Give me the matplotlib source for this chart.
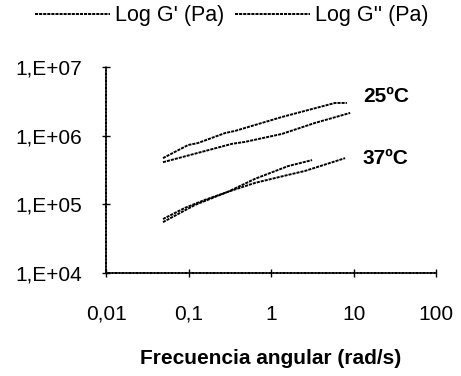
import matplotlib
matplotlib.use("Agg")
import matplotlib.pyplot as plt
from matplotlib.ticker import FixedLocator, NullLocator

plt.rcParams['font.family'] = ['Liberation Sans', 'DejaVu Sans']

# 25 ºC
freq_g1_25 = [0.049, 0.099, 0.13, 0.277, 0.366, 1.36, 5.97, 8.3]
g1_25 = [4.7e5, 7.3e5, 7.8e5, 1.09e6, 1.17e6, 1.87e6, 2.99e6, 2.99e6]
freq_g2_25 = [0.049, 0.337, 0.484, 1.36, 3.41, 9.1]
g2_25 = [4.1e5, 7.6e5, 8.1e5, 1.06e6, 1.53e6, 2.14e6]
# 37 ºC
freq_g1_37 = [0.049, 0.091, 0.158, 0.30, 0.64, 1.61, 3.14]
g1_37 = [6.1e4, 8.9e4, 1.16e5, 1.52e5, 2.35e5, 3.6e5, 4.4e5]
freq_g2_37 = [0.049, 0.12, 0.30, 0.64, 1.61, 2.58, 7.9]
g2_37 = [5.5e4, 9.8e4, 1.52e5, 2.05e5, 2.68e5, 3.06e5, 4.7e5]

xticks = [0.01, 0.1, 1, 10, 100]
xticklabels = ['0,01', '0,1', '1', '10', '100']
yticks = [1e4, 1e5, 1e6, 1e7]
yticklabels = ['1,E+04', '1,E+05', '1,E+06', '1,E+07']

fig = plt.figure(figsize=(4.61, 3.76), dpi=100)
ax = fig.add_axes([0.23, 0.274, 0.716, 0.548])
ls = (0, (1.6, 0.5))
l1, = ax.plot(freq_g1_25, g1_25, color='black', lw=1.4, ls=ls, label="Log G' (Pa)")
l2, = ax.plot(freq_g2_25, g2_25, color='black', lw=1.4, ls=ls, label="Log G'' (Pa)")
ax.plot(freq_g1_37, g1_37, color='black', lw=1.4, ls=ls)
ax.plot(freq_g2_37, g2_37, color='black', lw=1.4, ls=ls)

ax.set_xscale('log')
ax.set_yscale('log')
ax.set_xlim(0.01, 100)
ax.set_ylim(1e4, 1e7)
ax.xaxis.set_major_locator(FixedLocator(xticks))
ax.yaxis.set_major_locator(FixedLocator(yticks))
ax.xaxis.set_minor_locator(NullLocator())
ax.yaxis.set_minor_locator(NullLocator())
ax.set_xticklabels(xticklabels)
ax.set_yticklabels(yticklabels)
ax.tick_params(direction='inout', length=6, width=1, labelsize=15)
ax.tick_params(axis='x', pad=20)
ax.tick_params(axis='y', pad=14)
for s in ['top', 'right']:
    ax.spines[s].set_visible(False)
for s in ['left', 'bottom']:
    ax.spines[s].set_linestyle((0, (1.6, 0.5)))
    ax.spines[s].set_linewidth(1.2)

ax.text(13.0, 3.66e6, '25ºC', fontsize=15, fontweight='bold', va='center', ha='left')
ax.text(13.0, 4.58e5, '37ºC', fontsize=15, fontweight='bold', va='center', ha='left')
ax.set_xlabel('Frecuencia angular (rad/s)', fontsize=15, fontweight='bold', labelpad=18)

fig.legend(handles=[l1, l2], loc='center', bbox_to_anchor=(0.503, 0.958), ncol=2,
           frameon=False, fontsize=15.5, handlelength=3.5, handletextpad=0.23,
           columnspacing=0.5, borderaxespad=0, borderpad=0)
fig.savefig('out.png', dpi=100)
